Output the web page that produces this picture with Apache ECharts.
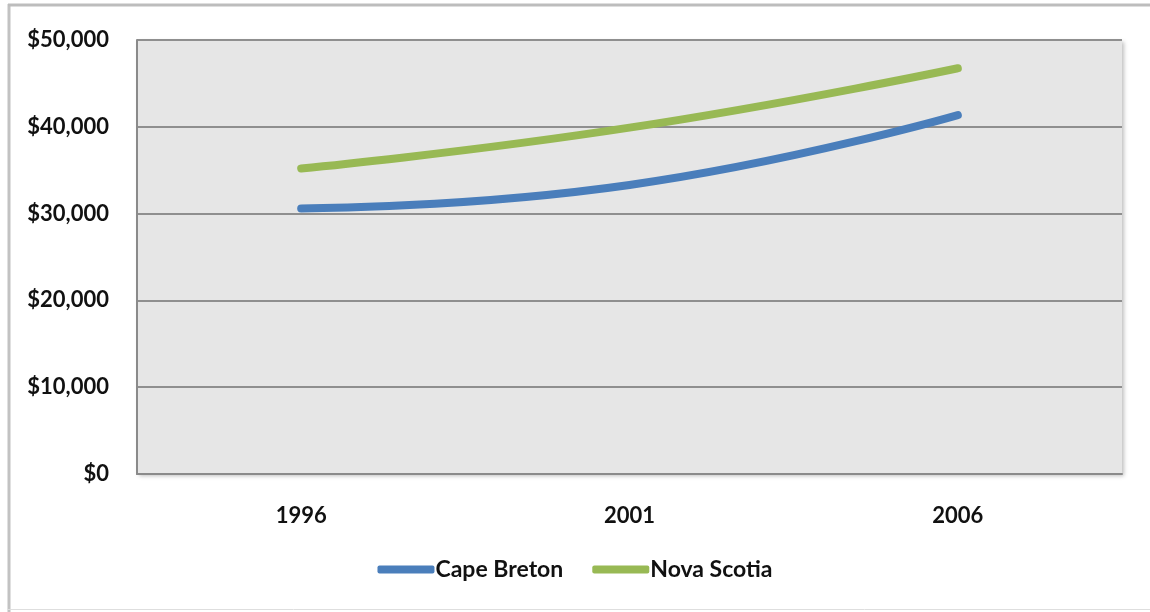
<!DOCTYPE html>
<html>
<head>
<meta charset="utf-8">
<script src="https://cdn.jsdelivr.net/npm/echarts@6/dist/echarts.min.js"></script>
<style>html,body{margin:0;padding:0;background:#fff}#c{width:1150px;height:612px}</style>
</head>
<body>
<div id="c"></div>
<script>
const categories = ['1996', '2001', '2006'];
const capeBreton = [30600, 33300, 41350];
const novaScotia = [35200, 39900, 46750];
const seriesNames = ['Cape Breton', 'Nova Scotia'];
const colors = ['#4a7ebb', '#98b954'];

const chart = echarts.init(document.getElementById('c'));
const font = 'Lato, "Open Sans", sans-serif';
chart.setOption({
  animation: false,
  backgroundColor: '#ffffff',
  graphic: [
    { type: 'line', shape: { x1: 9, y1: 4, x2: 9, y2: 612 }, style: { stroke: '#c2c2c2', lineWidth: 3 }, z: -1 },
    { type: 'line', shape: { x1: 8, y1: 5, x2: 1150, y2: 5 }, style: { stroke: '#bdbdbd', lineWidth: 3 }, z: -1 },
    { type: 'line', shape: { x1: 8, y1: 609.5, x2: 1150, y2: 609.5 }, style: { stroke: '#dedede', lineWidth: 1 }, z: -1 }
  ],
  grid: {
    left: 137, right: 28, top: 40, bottom: 138,
    show: true, backgroundColor: '#e6e6e6', borderWidth: 0,
    shadowColor: 'rgba(0,0,0,0.25)', shadowBlur: 4, shadowOffsetX: 2, shadowOffsetY: 2
  },
  legend: {
    bottom: 26, left: 'center',
    itemWidth: 57, itemHeight: 8, itemGap: 29,
    icon: 'roundRect',
    textStyle: { fontFamily: font, fontWeight: 'bold', fontSize: 23, color: '#111', padding: [0,0,0,-4] },
    data: seriesNames
  },
  xAxis: {
    type: 'category', data: categories, boundaryGap: true,
    axisLine: { lineStyle: { color: '#8a8a8a', width: 2 } },
    axisTick: { show: false },
    axisLabel: { margin: 31, fontFamily: font, fontWeight: 'bold', fontSize: 22, color: '#111' }
  },
  yAxis: {
    type: 'value', min: 0, max: 50000, interval: 10000,
    axisLine: { show: true, lineStyle: { color: '#8a8a8a', width: 2 } },
    axisTick: { show: false },
    splitLine: { lineStyle: { color: '#8f8f8f', width: 2 } },
    axisLabel: {
      margin: 28, fontFamily: font, fontWeight: 'bold', fontSize: 22, color: '#111',
      formatter: v => '$' + v.toLocaleString('en-US')
    }
  },
  series: [
    { name: seriesNames[0], type: 'line', data: capeBreton, smooth: true, symbol: 'none',
      lineStyle: { color: colors[0], width: 8, cap: 'round' }, itemStyle: { color: colors[0] } },
    { name: seriesNames[1], type: 'line', data: novaScotia, smooth: true, symbol: 'none',
      lineStyle: { color: colors[1], width: 8, cap: 'round' }, itemStyle: { color: colors[1] } }
  ]
});
</script>
</body>
</html>
